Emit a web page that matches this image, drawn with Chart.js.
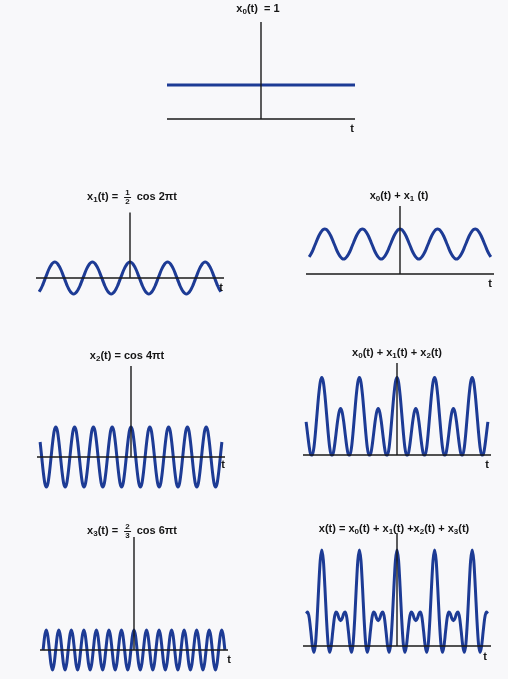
<!DOCTYPE html>
<html>
<head>
<meta charset="utf-8">
<script src="https://cdn.jsdelivr.net/npm/chart.js@4.4.0/dist/chart.umd.min.js"></script>
<style>
body { margin: 0; background: #f8f8fa; }
#page { position: relative; width: 508px; height: 679px; overflow: hidden; font-family: "Liberation Sans", Arial, sans-serif; color: #151515; }
canvas { position: absolute; }
.lbl { position: absolute; font-size: 11px; font-weight: bold; white-space: nowrap; transform: translateX(-50%); line-height: 16px; z-index: 2; }
.lbl sub { font-size: 8px; vertical-align: -2px; line-height: 0; }
.frac { display: inline-block; vertical-align: middle; text-align: center; font-size: 8px; line-height: 8px; margin: 0 3px; }
.frac span { display: block; }
.frac .num { border-bottom: 1px solid #151515; padding: 0 1px; }
.tl { position: absolute; font-size: 11px; font-weight: bold; transform: translate(-50%, -50%); z-index: 2; }
</style>
</head>
<body>
<div id="page">
	<div class="lbl" style="left:258px;top:0px">x<sub>0</sub>(t) &nbsp;= 1</div>
	<div class="lbl" style="left:132px;top:188px">x<sub>1</sub>(t) = <span class="frac"><span class="num">1</span><span>2</span></span> cos 2&pi;t</div>
	<div class="lbl" style="left:399px;top:187px">x<sub>0</sub>(t) + x<sub>1</sub> (t)</div>
	<div class="lbl" style="left:127px;top:347px">x<sub>2</sub>(t) = cos 4&pi;t</div>
	<div class="lbl" style="left:397px;top:344px">x<sub>0</sub>(t) + x<sub>1</sub>(t) + x<sub>2</sub>(t)</div>
	<div class="lbl" style="left:132px;top:522px">x<sub>3</sub>(t) = <span class="frac"><span class="num">2</span><span>3</span></span> cos 6&pi;t</div>
	<div class="lbl" style="left:394px;top:520px">x(t) = x<sub>0</sub>(t) + x<sub>1</sub>(t) +x<sub>2</sub>(t) + x<sub>3</sub>(t)</div>

	<div class="tl" style="left:352px;top:128px">t</div>
	<div class="tl" style="left:221px;top:287px">t</div>
	<div class="tl" style="left:490px;top:283px">t</div>
	<div class="tl" style="left:223px;top:464px">t</div>
	<div class="tl" style="left:487px;top:464px">t</div>
	<div class="tl" style="left:229px;top:659px">t</div>
	<div class="tl" style="left:485px;top:656px">t</div>
</div>
<script>
// sample times, in steps of 1/24
var tGrid = [
	-2.417, -2.375, -2.333, -2.292, -2.25, -2.208, -2.167, -2.125, -2.083, -2.042,
	-2, -1.958, -1.917, -1.875, -1.833, -1.792, -1.75, -1.708, -1.667, -1.625, -1.583, -1.542,
	-1.5, -1.458, -1.417, -1.375, -1.333, -1.292, -1.25, -1.208, -1.167, -1.125, -1.083, -1.042,
	-1, -0.958, -0.917, -0.875, -0.833, -0.792, -0.75, -0.708, -0.667, -0.625, -0.583, -0.542,
	-0.5, -0.458, -0.417, -0.375, -0.333, -0.292, -0.25, -0.208, -0.167, -0.125, -0.083, -0.042,
	0, 0.042, 0.083, 0.125, 0.167, 0.208, 0.25, 0.292, 0.333, 0.375, 0.417, 0.458,
	0.5, 0.542, 0.583, 0.625, 0.667, 0.708, 0.75, 0.792, 0.833, 0.875, 0.917, 0.958,
	1, 1.042, 1.083, 1.125, 1.167, 1.208, 1.25, 1.292, 1.333, 1.375, 1.417, 1.458,
	1.5, 1.542, 1.583, 1.625, 1.667, 1.708, 1.75, 1.792, 1.833, 1.875, 1.917, 1.958,
	2, 2.042, 2.083, 2.125, 2.167, 2.208, 2.25, 2.292, 2.333, 2.375, 2.417
];
var tEnds = [-2.5, 2.5];

var x0Values = [1, 1];

var x1Values = [
	-0.43, -0.35, -0.25, -0.13, 0, 0.13, 0.25, 0.35, 0.43, 0.48,
	0.5, 0.48, 0.43, 0.35, 0.25, 0.13, 0, -0.13, -0.25, -0.35, -0.43, -0.48,
	-0.5, -0.48, -0.43, -0.35, -0.25, -0.13, 0, 0.13, 0.25, 0.35, 0.43, 0.48,
	0.5, 0.48, 0.43, 0.35, 0.25, 0.13, 0, -0.13, -0.25, -0.35, -0.43, -0.48,
	-0.5, -0.48, -0.43, -0.35, -0.25, -0.13, 0, 0.13, 0.25, 0.35, 0.43, 0.48,
	0.5, 0.48, 0.43, 0.35, 0.25, 0.13, 0, -0.13, -0.25, -0.35, -0.43, -0.48,
	-0.5, -0.48, -0.43, -0.35, -0.25, -0.13, 0, 0.13, 0.25, 0.35, 0.43, 0.48,
	0.5, 0.48, 0.43, 0.35, 0.25, 0.13, 0, -0.13, -0.25, -0.35, -0.43, -0.48,
	-0.5, -0.48, -0.43, -0.35, -0.25, -0.13, 0, 0.13, 0.25, 0.35, 0.43, 0.48,
	0.5, 0.48, 0.43, 0.35, 0.25, 0.13, 0, -0.13, -0.25, -0.35, -0.43
];

var x01Values = [
	0.57, 0.65, 0.75, 0.87, 1, 1.13, 1.25, 1.35, 1.43, 1.48,
	1.5, 1.48, 1.43, 1.35, 1.25, 1.13, 1, 0.87, 0.75, 0.65, 0.57, 0.52,
	0.5, 0.52, 0.57, 0.65, 0.75, 0.87, 1, 1.13, 1.25, 1.35, 1.43, 1.48,
	1.5, 1.48, 1.43, 1.35, 1.25, 1.13, 1, 0.87, 0.75, 0.65, 0.57, 0.52,
	0.5, 0.52, 0.57, 0.65, 0.75, 0.87, 1, 1.13, 1.25, 1.35, 1.43, 1.48,
	1.5, 1.48, 1.43, 1.35, 1.25, 1.13, 1, 0.87, 0.75, 0.65, 0.57, 0.52,
	0.5, 0.52, 0.57, 0.65, 0.75, 0.87, 1, 1.13, 1.25, 1.35, 1.43, 1.48,
	1.5, 1.48, 1.43, 1.35, 1.25, 1.13, 1, 0.87, 0.75, 0.65, 0.57, 0.52,
	0.5, 0.52, 0.57, 0.65, 0.75, 0.87, 1, 1.13, 1.25, 1.35, 1.43, 1.48,
	1.5, 1.48, 1.43, 1.35, 1.25, 1.13, 1, 0.87, 0.75, 0.65, 0.57
];

var x2Values = [
	0.5, 0, -0.5, -0.87, -1, -0.87, -0.5, 0, 0.5, 0.87,
	1, 0.87, 0.5, 0, -0.5, -0.87, -1, -0.87, -0.5, 0, 0.5, 0.87,
	1, 0.87, 0.5, 0, -0.5, -0.87, -1, -0.87, -0.5, 0, 0.5, 0.87,
	1, 0.87, 0.5, 0, -0.5, -0.87, -1, -0.87, -0.5, 0, 0.5, 0.87,
	1, 0.87, 0.5, 0, -0.5, -0.87, -1, -0.87, -0.5, 0, 0.5, 0.87,
	1, 0.87, 0.5, 0, -0.5, -0.87, -1, -0.87, -0.5, 0, 0.5, 0.87,
	1, 0.87, 0.5, 0, -0.5, -0.87, -1, -0.87, -0.5, 0, 0.5, 0.87,
	1, 0.87, 0.5, 0, -0.5, -0.87, -1, -0.87, -0.5, 0, 0.5, 0.87,
	1, 0.87, 0.5, 0, -0.5, -0.87, -1, -0.87, -0.5, 0, 0.5, 0.87,
	1, 0.87, 0.5, 0, -0.5, -0.87, -1, -0.87, -0.5, 0, 0.5
];

var x012Values = [
	1.07, 0.65, 0.25, 0.01, 0, 0.26, 0.75, 1.35, 1.93, 2.35,
	2.5, 2.35, 1.93, 1.35, 0.75, 0.26, 0, 0.01, 0.25, 0.65, 1.07, 1.38,
	1.5, 1.38, 1.07, 0.65, 0.25, 0.01, 0, 0.26, 0.75, 1.35, 1.93, 2.35,
	2.5, 2.35, 1.93, 1.35, 0.75, 0.26, 0, 0.01, 0.25, 0.65, 1.07, 1.38,
	1.5, 1.38, 1.07, 0.65, 0.25, 0.01, 0, 0.26, 0.75, 1.35, 1.93, 2.35,
	2.5, 2.35, 1.93, 1.35, 0.75, 0.26, 0, 0.01, 0.25, 0.65, 1.07, 1.38,
	1.5, 1.38, 1.07, 0.65, 0.25, 0.01, 0, 0.26, 0.75, 1.35, 1.93, 2.35,
	2.5, 2.35, 1.93, 1.35, 0.75, 0.26, 0, 0.01, 0.25, 0.65, 1.07, 1.38,
	1.5, 1.38, 1.07, 0.65, 0.25, 0.01, 0, 0.26, 0.75, 1.35, 1.93, 2.35,
	2.5, 2.35, 1.93, 1.35, 0.75, 0.26, 0, 0.01, 0.25, 0.65, 1.07
];

var x3Values = [
	0, 0.47, 0.67, 0.47, 0, -0.47, -0.67, -0.47, 0, 0.47,
	0.67, 0.47, 0, -0.47, -0.67, -0.47, 0, 0.47, 0.67, 0.47, 0, -0.47,
	-0.67, -0.47, 0, 0.47, 0.67, 0.47, 0, -0.47, -0.67, -0.47, 0, 0.47,
	0.67, 0.47, 0, -0.47, -0.67, -0.47, 0, 0.47, 0.67, 0.47, 0, -0.47,
	-0.67, -0.47, 0, 0.47, 0.67, 0.47, 0, -0.47, -0.67, -0.47, 0, 0.47,
	0.67, 0.47, 0, -0.47, -0.67, -0.47, 0, 0.47, 0.67, 0.47, 0, -0.47,
	-0.67, -0.47, 0, 0.47, 0.67, 0.47, 0, -0.47, -0.67, -0.47, 0, 0.47,
	0.67, 0.47, 0, -0.47, -0.67, -0.47, 0, 0.47, 0.67, 0.47, 0, -0.47,
	-0.67, -0.47, 0, 0.47, 0.67, 0.47, 0, -0.47, -0.67, -0.47, 0, 0.47,
	0.67, 0.47, 0, -0.47, -0.67, -0.47, 0, 0.47, 0.67, 0.47, 0
];

var xValues = [
	1.07, 1.12, 0.92, 0.48, 0, -0.21, 0.08, 0.88, 1.93, 2.82,
	3.17, 2.82, 1.93, 0.88, 0.08, -0.21, 0, 0.48, 0.92, 1.12, 1.07, 0.91,
	0.83, 0.91, 1.07, 1.12, 0.92, 0.48, 0, -0.21, 0.08, 0.88, 1.93, 2.82,
	3.17, 2.82, 1.93, 0.88, 0.08, -0.21, 0, 0.48, 0.92, 1.12, 1.07, 0.91,
	0.83, 0.91, 1.07, 1.12, 0.92, 0.48, 0, -0.21, 0.08, 0.88, 1.93, 2.82,
	3.17, 2.82, 1.93, 0.88, 0.08, -0.21, 0, 0.48, 0.92, 1.12, 1.07, 0.91,
	0.83, 0.91, 1.07, 1.12, 0.92, 0.48, 0, -0.21, 0.08, 0.88, 1.93, 2.82,
	3.17, 2.82, 1.93, 0.88, 0.08, -0.21, 0, 0.48, 0.92, 1.12, 1.07, 0.91,
	0.83, 0.91, 1.07, 1.12, 0.92, 0.48, 0, -0.21, 0.08, 0.88, 1.93, 2.82,
	3.17, 2.82, 1.93, 0.88, 0.08, -0.21, 0, 0.48, 0.92, 1.12, 1.07
];

var curveColor = '#1d3b95';
var axisColor = '#1a1a1a';

// axis line at y = 0 and the stem at t = 0, drawn on top of the curve
var axesPlugin = {
	id: 'axes',
	afterDatasetsDraw: function (chart, args, opts) {
		var ctx = chart.ctx;
		var x = chart.scales.x;
		var y = chart.scales.y;
		var y0 = y.getPixelForValue(0);
		ctx.save();
		ctx.strokeStyle = axisColor;
		ctx.lineWidth = 1.4;
		ctx.beginPath();
		ctx.moveTo(x.getPixelForValue(x.min), y0);
		ctx.lineTo(x.getPixelForValue(x.max), y0);
		ctx.moveTo(x.getPixelForValue(0), y0);
		ctx.lineTo(x.getPixelForValue(0), y.getPixelForValue(opts.stemTop));
		ctx.stroke();
		ctx.restore();
	}
};

// left, top, bottom and axisY in page pixels, scale in pixels per unit
var panels = [
	{ labels: tEnds, values: x0Values, left: 167, top: 15, bottom: 135, axisY: 119, scale: 34, stemTop: 2.85 },
	{ labels: tGrid, values: x1Values, left: 36, top: 200, bottom: 305, axisY: 278, scale: 32, stemTop: 2.05 },
	{ labels: tGrid, values: x01Values, left: 306, top: 195, bottom: 290, axisY: 274, scale: 30, stemTop: 2.27 },
	{ labels: tGrid, values: x2Values, left: 37, top: 355, bottom: 500, axisY: 457, scale: 30, stemTop: 3.03 },
	{ labels: tGrid, values: x012Values, left: 303, top: 352, bottom: 475, axisY: 455, scale: 31, stemTop: 2.97 },
	{ labels: tGrid, values: x3Values, left: 40, top: 525, bottom: 679, axisY: 650, scale: 30, stemTop: 3.77 },
	{ labels: tGrid, values: xValues, left: 303, top: 522, bottom: 679, axisY: 646, scale: 30.3, stemTop: 3.73 }
];

var page = document.getElementById('page');
panels.forEach(function (p) {
	var canvas = document.createElement('canvas');
	canvas.width = 188;
	canvas.height = p.bottom - p.top;
	canvas.style.left = p.left + 'px';
	canvas.style.top = p.top + 'px';
	page.appendChild(canvas);

	new Chart(canvas, {
		type: 'line',
		data: {
			labels: p.labels,
			datasets: [
				{
					data: p.values,
					borderColor: curveColor,
					borderWidth: 3,
					pointRadius: 0,
					fill: false,
					cubicInterpolationMode: 'monotone',
				},
			],
		},
		options: {
			responsive: false,
			animation: false,
			layout: { padding: 0 },
			plugins: {
				legend: { display: false },
				tooltip: { enabled: false },
				axes: { stemTop: p.stemTop },
			},
			scales: {
				x: { type: 'linear', min: -2.5, max: 2.5, display: false },
				y: {
					min: -(p.bottom - p.axisY) / p.scale,
					max: (p.axisY - p.top) / p.scale,
					display: false,
				},
			},
		},
		plugins: [axesPlugin],
	});
});
</script>
</body>
</html>
